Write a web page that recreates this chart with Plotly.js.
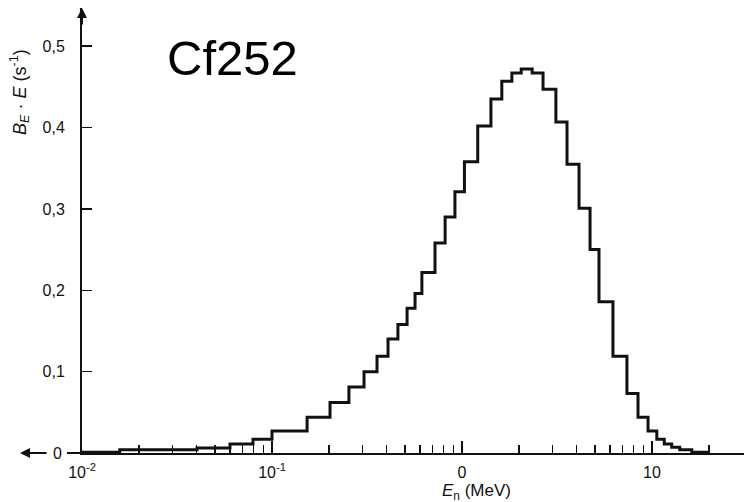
<!DOCTYPE html>
<html>
<head>
<meta charset="utf-8">
<script src="https://cdn.plot.ly/plotly-3.0.1.min.js"></script>
<style>html,body{margin:0;padding:0;background:#fff;}#chart{width:744px;height:502px;}</style>
</head>
<body>
<div id="chart"></div>
<script>
// Bin edges (MeV)
const binEdges = [0.01, 0.0158, 0.0403, 0.0601, 0.0794, 0.1, 0.153, 0.202, 0.254, 0.305, 0.357, 0.408, 0.460, 0.514, 0.566, 0.615, 0.721, 0.815, 0.918, 1.03, 1.21, 1.42, 1.62, 1.83, 2.05, 2.34, 2.67, 3.12, 3.57, 4.13, 4.72, 5.26, 6.23, 7.38, 8.44, 9.53, 10.6, 11.6, 12.7, 14.0, 16.2, 20.2];
// B_E * E (s^-1) per bin
const binValues = [0.001, 0.004, 0.006, 0.011, 0.017, 0.027, 0.044, 0.062, 0.081, 0.100, 0.119, 0.140, 0.158, 0.178, 0.196, 0.222, 0.258, 0.290, 0.321, 0.358, 0.402, 0.435, 0.457, 0.467, 0.472, 0.467, 0.447, 0.407, 0.355, 0.301, 0.250, 0.186, 0.119, 0.073, 0.044, 0.027, 0.017, 0.011, 0.007, 0.004, 0.001];
const xTickVals = [0.01, 0.1, 1, 10];
const xTickText = ["10<sup>-2</sup>", "10<sup>-1</sup>", "0", "10"];
const xMinorVals = [0.02,0.03,0.04,0.05,0.06,0.07,0.08,0.09,0.2,0.3,0.4,0.5,0.6,0.7,0.8,0.9,2,3,4,5,6,7,8,9,20];
const yTickVals = [0.1, 0.2, 0.3, 0.4, 0.5];
const yTickText = ["0,1", "0,2", "0,3", "0,4", "0,5"];

const stepY = binValues.concat([binValues[binValues.length - 1]]);

const W = 744, H = 502, L = 82, R = 0, T = 8, B = 49;
const pw = W - L - R, ph = H - T - B;
const px2paper = p => (p - L) / pw;
const py2paper = p => 1 - (p - T) / ph;

const FONT = "Liberation Sans Narrow, Liberation Sans, Arial, sans-serif";
const SANS = "Liberation Sans, Arial, sans-serif";

const trace = {
  type: 'scatter', mode: 'lines',
  x: binEdges, y: stepY,
  line: {shape: 'hv', color: '#111', width: 3},
  hoverinfo: 'skip'
};

const layout = {
  width: W, height: H,
  margin: {l: L, r: R, t: T, b: B},
  paper_bgcolor: '#fff', plot_bgcolor: '#fff',
  showlegend: false,
  font: {family: FONT, color: '#111', size: 16},
  xaxis: {
    type: 'log', range: [-2, -2 + pw / 190],
    tickmode: 'array', tickvals: xTickVals, ticktext: xTickText,
    ticks: 'inside', ticklen: 12, tickwidth: 1.5, tickcolor: '#111',
    ticklabelstandoff: 4,
    minor: {tickmode: 'array', tickvals: xMinorVals, ticks: 'inside', ticklen: 8, tickwidth: 1.5, tickcolor: '#111', showgrid: false},
    showgrid: false, zeroline: false,
    showline: true, linecolor: '#111', linewidth: 2,
    tickfont: {family: FONT, size: 16, color: '#111'}
  },
  yaxis: {
    range: [0, 0.547],
    tickmode: 'array', tickvals: yTickVals, ticktext: yTickText,
    ticks: 'inside', ticklen: 10, tickwidth: 1.5, tickcolor: '#111',
    ticklabelstandoff: 12,
    showgrid: false, zeroline: false,
    showline: true, linecolor: '#111', linewidth: 2,
    tickfont: {family: FONT, size: 16, color: '#111'}
  },
  annotations: [
    {xref: 'paper', yref: 'paper', x: px2paper(232), y: py2paper(58), xanchor: 'center', yanchor: 'middle',
     text: 'Cf252', showarrow: false, font: {family: SANS, size: 49, color: '#000'}},
    {xref: 'paper', yref: 'paper', x: px2paper(19), y: py2paper(92), xanchor: 'center', yanchor: 'middle',
     text: '<i>B</i><sub><i>E</i></sub> · <i>E</i> (s<sup>-1</sup>)', textangle: -90, showarrow: false,
     font: {family: SANS, size: 18, color: '#111'}},
    {xref: 'paper', yref: 'paper', x: px2paper(476), y: py2paper(492), xanchor: 'center', yanchor: 'middle',
     text: '<i>E</i><sub>n</sub> (MeV)', showarrow: false,
     font: {family: SANS, size: 17, color: '#111'}},
    {xref: 'paper', yref: 'paper', x: px2paper(57), y: 0, xanchor: 'center', yanchor: 'middle',
     text: '0', showarrow: false, font: {family: FONT, size: 16, color: '#111'}},
    // left arrow on the zero line
    {xref: 'paper', yref: 'paper', x: px2paper(20), y: 0, ax: 28, ay: 0, text: '',
     showarrow: true, arrowhead: 2, arrowsize: 1, arrowwidth: 2, arrowcolor: '#111'},
    // up arrow at the top of the y axis
    {xref: 'paper', yref: 'paper', x: 0, y: 1, ax: 0, ay: 18, text: '',
     showarrow: true, arrowhead: 2, arrowsize: 1, arrowwidth: 2, arrowcolor: '#111'}
  ],
  shapes: [
    {type: 'line', xref: 'paper', yref: 'paper', x0: px2paper(67), x1: 0, y0: 0, y1: 0,
     line: {color: '#111', width: 2}}
  ]
};

Plotly.newPlot('chart', [trace], layout, {displayModeBar: false, staticPlot: true});
</script>
</body>
</html>
